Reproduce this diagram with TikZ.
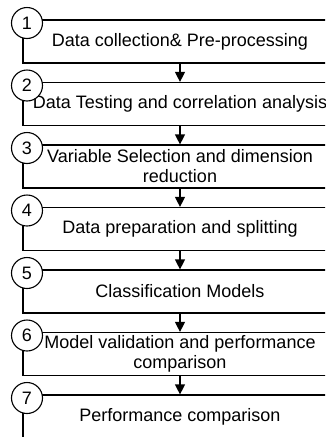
\documentclass[tikz,border=0pt]{standalone}
\usepackage{fontspec}
\setmainfont{Liberation Sans}
\usetikzlibrary{arrows.meta}

\tikzset{
    stepbox/.style={draw, line width=1.2pt, minimum width=314pt, minimum height=43pt,
        align=center, inner sep=1pt, font=\fontsize{18}{20}\selectfont},
    stepnum/.style={draw, circle, fill=white, line width=1.1pt, minimum size=31pt,
        inner sep=0pt, font=\fontsize{18}{20}\selectfont},
    steparrow/.style={line width=1.2pt, -{Triangle[length=10pt,width=10pt]}}
}

\begin{document}
\begin{tikzpicture}[x=1pt, y=-1pt]

    \useasboundingbox (0,0) rectangle (325,437);
    \clip (0,0) rectangle (325,437);

    % boxes first, then the numbered circles hide their top left corners
    \foreach \i/\txt in {
        1/{Data collection\& Pre-processing},
        2/{Data Testing and correlation analysis},
        3/{Variable Selection and dimension\\reduction},
        4/{Data preparation and splitting},
        5/{Classification Models},
        6/{Model validation and performance\\comparison},
        7/{Performance comparison}} {
        \node[stepbox] (b\i) at (180, {20+62.5*(\i-1)+21.5}) {\txt};
        \node[stepnum] (n\i) at (27, {20+62.5*(\i-1)+3}) {\i};
    }

    \foreach \i [evaluate=\i as \j using int(\i+1)] in {1,...,6} {
        \draw[steparrow] (b\i) -- (b\j);
    }

\end{tikzpicture}
\end{document}
